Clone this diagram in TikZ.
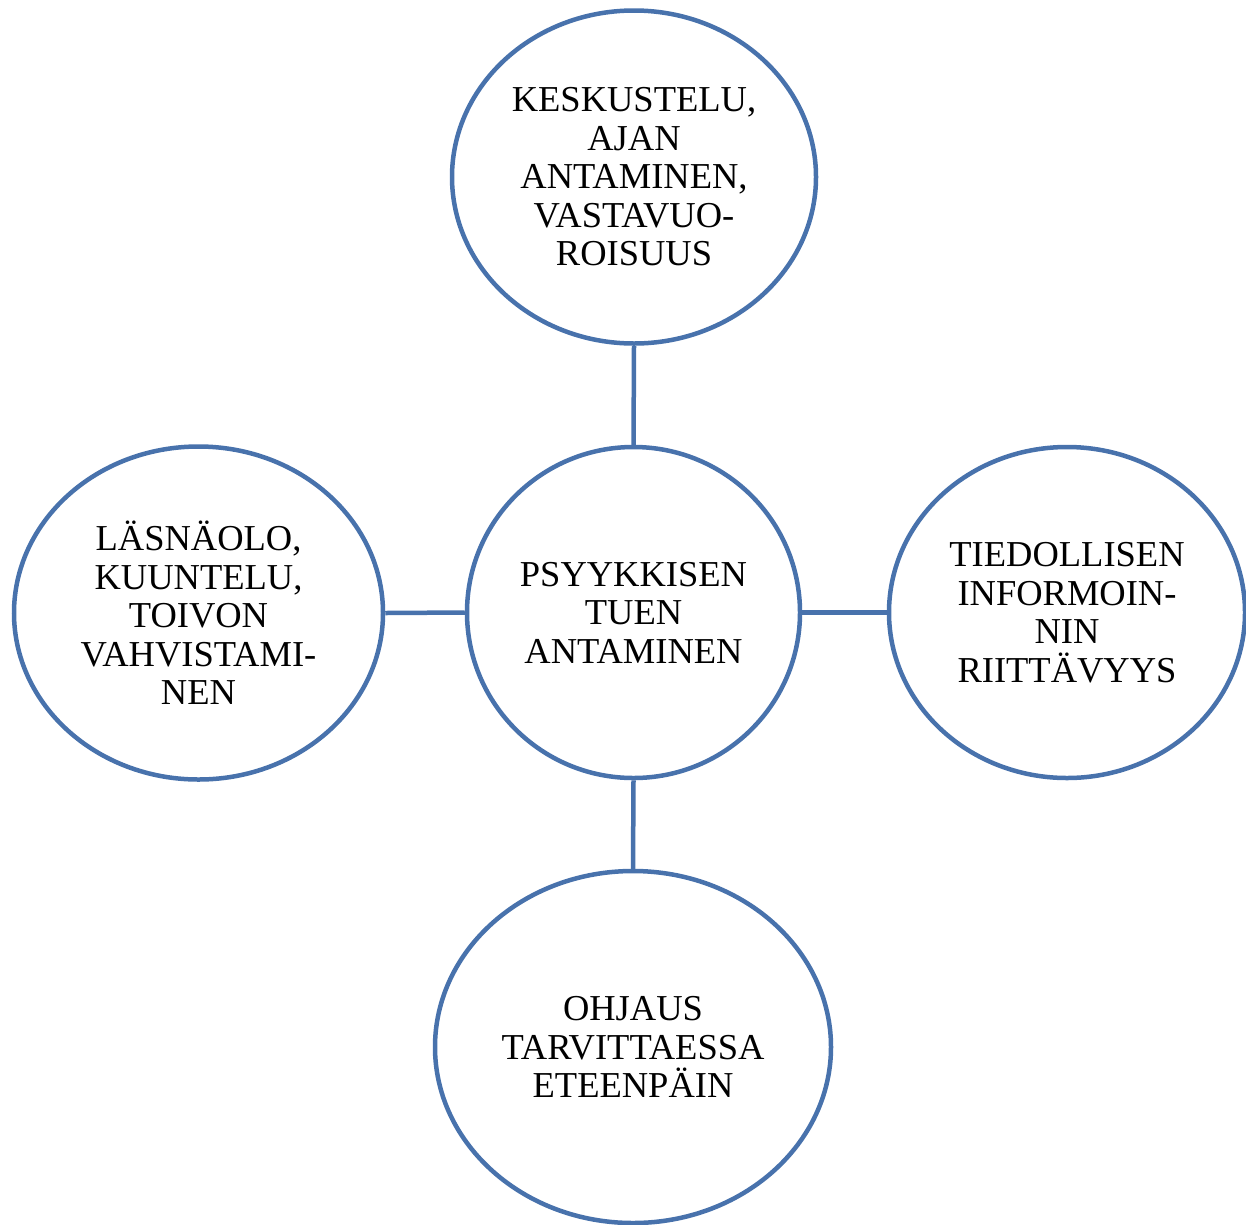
\documentclass[tikz,border=0pt]{standalone}
\usepackage{fontspec}
\setmainfont{Liberation Serif}
\usetikzlibrary{shapes.geometric}
\definecolor{ringblue}{RGB}{72,114,172}
\tikzset{
  bubble/.style={ellipse, draw=ringblue, line width=4.5pt, inner sep=0pt,
    align=center, font=\fontsize{36.5}{38.5}\selectfont},
  link/.style={draw=ringblue, line width=4.5pt}
}
\begin{document}
\begin{tikzpicture}[x=1pt,y=-1pt]
\useasboundingbox (0,0) rectangle (1246,1224);
\node[bubble, minimum width=364pt, minimum height=333pt] (top) at (634,177)
  {KESKUSTELU,\\AJAN\\ANTAMINEN,\\VASTAVUO-\\ROISUUS};
\node[bubble, minimum width=333pt, minimum height=331pt] (mid) at (633.5,612.5)
  {PSYYKKISEN\\TUEN\\ANTAMINEN};
\node[bubble, minimum width=369pt, minimum height=333pt] (left) at (198.5,613)
  {LÄSNÄOLO,\\KUUNTELU,\\TOIVON\\VAHVISTAMI-\\NEN};
\node[bubble, minimum width=356pt, minimum height=331pt] (right) at (1067,612.5)
  {TIEDOLLISEN\\INFORMOIN-\\NIN\\RIITTÄVYYS};
\node[bubble, minimum width=396pt, minimum height=352pt] (bot) at (633,1047)
  {OHJAUS\\TARVITTAESSA\\ETEENPÄIN};
\draw[link] (top.south) -- (mid.north);
\draw[link] (mid.south) -- (bot.north);
\draw[link] (left.east) -- (mid.west);
\draw[link] (mid.east) -- (right.west);
\end{tikzpicture}
\end{document}
